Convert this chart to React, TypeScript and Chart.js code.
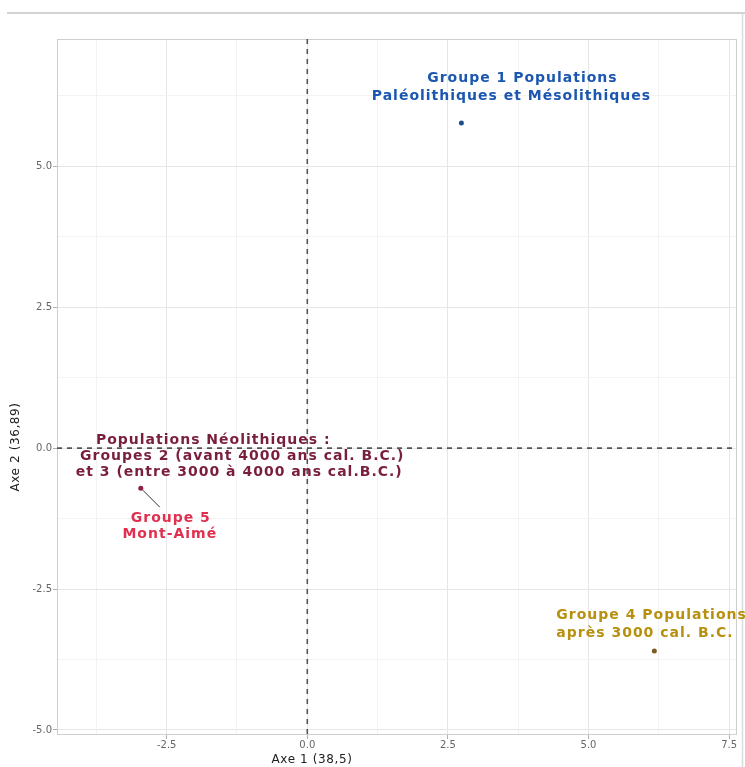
import React, { useEffect, useRef } from "react";
import { Chart, registerables } from "chart.js";

Chart.register(...registerables);

// ---- data ----
const groupNames = ["Groupe 1", "Groupes 2 et 3", "Groupe 5", "Groupe 4"];
const axe1Values = [2.74, -1.21, -2.96, 6.17];
const axe2Values = [5.77, -0.14, -0.71, -3.6];
const groupLabels = [
  ["Groupe 1 Populations", "Paléolithiques et Mésolithiques"],
  ["Populations Néolithiques :", "Groupes 2 (avant 4000 ans cal. B.C.)", "et 3 (entre 3000 à 4000 ans cal.B.C.)"],
  ["Groupe 5", "Mont-Aimé"],
  ["Groupe 4 Populations", "après 3000 cal. B.C."],
];
const xTitle = "Axe 1 (38,5)";
const yTitle = "Axe 2 (36,89)";

// ---- styles ----
const textColors = ["#1b57b0", "#7a1f3b", "#e0304e", "#b8900f"];
const pointColors = ["#1f4f8f", "#7a1f3b", "#8e1f3e", "#7b5b22"];
const pointSizes = [2.5, 0, 2.5, 2.5];
const labelLayout = [
  { align: "center", offsets: [[61, -45], [50, -27]] },
  { align: "center", offsets: [[-26, -16], [3, 0], [0, 16]] },
  { align: "center", offsets: [[30, 30], [29, 46]] },
  { align: "left", offsets: [[-98, -36], [-98, -18]] },
];

const isMajor = (v: number) => Math.abs(v / 2.5 - Math.round(v / 2.5)) < 1e-6;

const decorPlugin = {
  id: "decor",
  beforeDraw(chart: any) {
    const ctx = chart.ctx;
    ctx.save();
    ctx.fillStyle = "#ffffff";
    ctx.fillRect(0, 0, chart.width, chart.height);
    ctx.strokeStyle = "#d2d2d2";
    ctx.lineWidth = 2;
    ctx.beginPath();
    ctx.moveTo(7, 13);
    ctx.lineTo(745, 13);
    ctx.stroke();
    ctx.lineWidth = 1.5;
    ctx.strokeStyle = "#dcdcdc";
    ctx.beginPath();
    ctx.moveTo(742.5, 13);
    ctx.lineTo(742.5, 767);
    ctx.stroke();
    ctx.restore();
  },
  beforeDatasetsDraw(chart: any) {
    const ctx = chart.ctx;
    const a = chart.chartArea;
    const xs = chart.scales.x;
    const ys = chart.scales.y;
    ctx.save();
    ctx.strokeStyle = "#cfcfcf";
    ctx.lineWidth = 1;
    ctx.strokeRect(a.left + 0.5, a.top + 0.5, a.right - a.left - 1, a.bottom - a.top - 1);
    ctx.strokeStyle = "#555555";
    ctx.lineWidth = 1.6;
    ctx.setLineDash([5, 5]);
    const x0 = xs.getPixelForValue(0);
    const y0 = ys.getPixelForValue(0);
    ctx.beginPath();
    ctx.moveTo(x0, a.top);
    ctx.lineTo(x0, a.bottom);
    ctx.moveTo(a.left, y0);
    ctx.lineTo(a.right, y0);
    ctx.stroke();
    ctx.setLineDash([]);
    const px = xs.getPixelForValue(axe1Values[2]);
    const py = ys.getPixelForValue(axe2Values[2]);
    ctx.strokeStyle = "#333333";
    ctx.lineWidth = 1;
    ctx.beginPath();
    ctx.moveTo(px + 2, py + 2);
    ctx.lineTo(px + 19, py + 19);
    ctx.stroke();
    ctx.restore();
  },
  afterDatasetsDraw(chart: any) {
    const ctx = chart.ctx;
    const xs = chart.scales.x;
    const ys = chart.scales.y;
    ctx.save();
    ctx.font = 'bold 14px "DejaVu Sans"';
    (ctx as any).letterSpacing = "1px";
    ctx.textBaseline = "middle";
    groupLabels.forEach((lines, i) => {
      const px = xs.getPixelForValue(axe1Values[i]);
      const py = ys.getPixelForValue(axe2Values[i]);
      const lay = labelLayout[i];
      ctx.fillStyle = textColors[i];
      ctx.textAlign = lay.align;
      lines.forEach((t, j) => {
        const [dx, dy] = lay.offsets[j];
        ctx.fillText(t, px + dx, py + dy);
      });
    });
    ctx.fillStyle = "#222222";
    ctx.font = '12px "DejaVu Sans"';
    (ctx as any).letterSpacing = "0.6px";
    ctx.textAlign = "center";
    ctx.fillText(xTitle, 312, 760);
    ctx.translate(16, 447);
    ctx.rotate(-Math.PI / 2);
    ctx.fillText(yTitle, 0, 0);
    ctx.restore();
  },
};

export default function App() {
  const ref = useRef<HTMLCanvasElement>(null);
  useEffect(() => {
    if (!ref.current) return;
    const tickFont = { family: '"DejaVu Sans"', size: 10 };
    const gridColor = (c: any) => (isMajor(c.tick.value) ? "#e6e6e6" : "#f3f3f3");
    const tickColor = (c: any) => (isMajor(c.tick.value) ? "#b0b0b0" : "rgba(0,0,0,0)");
    const fmt = (v: any) => (isMajor(Number(v)) ? Number(v).toFixed(1) : "");
    const chart = new Chart(ref.current, {
      type: "scatter",
      data: {
        datasets: groupNames.map((name, i) => ({
          label: name,
          data: [{ x: axe1Values[i], y: axe2Values[i] }],
          backgroundColor: pointColors[i],
          borderColor: pointColors[i],
          pointRadius: pointSizes[i],
          pointBorderWidth: 0,
        })),
      },
      options: {
        responsive: false,
        animation: false,
        events: [],
        layout: { padding: { left: 0, top: 39, right: 8, bottom: 0 } },
        plugins: { legend: { display: false }, tooltip: { enabled: false } },
        scales: {
          x: {
            type: "linear",
            min: -4.45,
            max: 7.64,
            afterFit: (s: any) => {
              s.height = 32;
            },
            ticks: {
              stepSize: 1.25,
              includeBounds: false,
              autoSkip: false,
              maxRotation: 0,
              padding: 0,
              color: "#666666",
              font: tickFont,
              callback: fmt,
            },
            grid: { color: gridColor, tickColor, tickLength: 4, lineWidth: 1 },
            border: { display: false },
          },
          y: {
            type: "linear",
            min: -5.09,
            max: 7.26,
            afterFit: (s: any) => {
              s.width = 57;
            },
            ticks: {
              stepSize: 1.25,
              includeBounds: false,
              autoSkip: false,
              padding: 1,
              color: "#666666",
              font: tickFont,
              callback: fmt,
            },
            grid: { color: gridColor, tickColor, tickLength: 4, lineWidth: 1 },
            border: { display: false },
          },
        },
      },
      plugins: [decorPlugin],
    } as any);
    return () => chart.destroy();
  }, []);
  return (
    <div style={{ position: "fixed", left: 0, top: 0, width: 745, height: 767, background: "#fff" }}>
      <canvas ref={ref} width={745} height={767} style={{ display: "block" }} />
    </div>
  );
}
